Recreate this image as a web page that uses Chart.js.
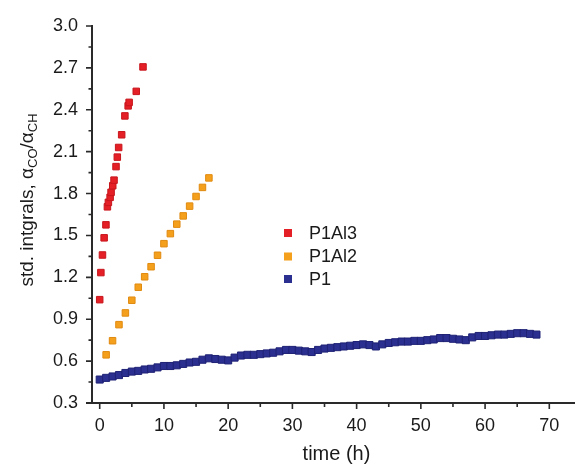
<!DOCTYPE html>
<html><head><meta charset="utf-8">
<script src="https://cdn.jsdelivr.net/npm/chart.js@4"></script>
<style>html,body{margin:0;padding:0;background:#fff}</style>
</head><body>
<canvas id="c" width="581" height="464" style="display:block;width:581px;height:464px"></canvas>
<script>
// ---- data ----
const seriesNames = ['P1Al3', 'P1Al2', 'P1'];
const seriesColors = ['#e41f26', '#f5a01d', '#2b2f8f'];
const seriesEdges = ['#c8161d', '#e08a10', '#1f2275'];

const p1al3Time  = [0, 0.18, 0.43, 0.69, 0.97, 1.2, 1.35, 1.62, 1.77, 2.03, 2.23, 2.54, 2.74, 2.95, 3.42, 3.92, 4.43, 4.58, 5.69, 6.74];
const p1al3Ratio = [1.04, 1.234, 1.36, 1.483, 1.576, 1.705, 1.737, 1.773, 1.809, 1.856, 1.896, 1.993, 2.061, 2.13, 2.221, 2.356, 2.428, 2.453, 2.532, 2.707];

const p1al2Time  = [1, 2, 3, 4, 5, 6, 7, 8, 9, 10, 11, 12, 13, 14, 15, 16, 17];
const p1al2Ratio = [0.645, 0.746, 0.861, 0.945, 1.036, 1.129, 1.204, 1.276, 1.358, 1.441, 1.513, 1.581, 1.64, 1.71, 1.779, 1.844, 1.912];

const p1Time  = [0,1,2,3,4,5,6,7,8,9,10,11,12,13,14,15,16,17,18,19,20,21,22,23,24,25,26,27,28,29,30,31,32,33,34,35,36,37,38,39,40,41,42,43,44,45,46,47,48,49,50,51,52,53,54,55,56,57,58,59,60,61,62,63,64,65,66,67,68];
const p1Ratio = [0.468,0.48,0.49,0.50,0.515,0.525,0.53,0.54,0.545,0.555,0.565,0.565,0.57,0.58,0.59,0.595,0.61,0.62,0.615,0.61,0.605,0.625,0.64,0.645,0.645,0.65,0.655,0.66,0.67,0.68,0.68,0.675,0.67,0.665,0.68,0.69,0.695,0.70,0.705,0.71,0.715,0.72,0.715,0.705,0.72,0.73,0.735,0.74,0.74,0.745,0.745,0.75,0.755,0.765,0.765,0.76,0.755,0.75,0.77,0.78,0.78,0.785,0.79,0.79,0.795,0.80,0.80,0.795,0.79];

const xMajorTicks = [0, 10, 20, 30, 40, 50, 60, 70];
const xMinorTicks = [5, 15, 25, 35, 45, 55, 65];
const yMajorTicks = [0.3, 0.6, 0.9, 1.2, 1.5, 1.8, 2.1, 2.4, 2.7, 3.0];
const yMinorTicks = [0.45, 0.75, 1.05, 1.35, 1.65, 1.95, 2.25, 2.55, 2.85];

const xTitle = 'time (h)';
const yTitleParts = [
  {t: 'std. intgrals, ', sub: false},
  {t: 'α', sub: false}, {t: 'CO', sub: true},
  {t: '/', sub: false},
  {t: 'α', sub: false}, {t: 'CH', sub: true}
];

// ---- build ----
const FONT = '"Liberation Sans", Arial, sans-serif';
const TXT = '#1a1a1a';
const AX = '#2a2a2a';

function pts(xs, ys) { return xs.map((x, i) => ({x: x, y: ys[i]})); }
const dataSets = [pts(p1al3Time, p1al3Ratio), pts(p1al2Time, p1al2Ratio), pts(p1Time, p1Ratio)];
const radii = [4.6, 4.6, 5];

const datasets = dataSets.map((d, i) => ({
  label: seriesNames[i],
  data: d,
  pointStyle: 'rect',
  pointRadius: radii[i],
  pointBorderWidth: 1,
  backgroundColor: seriesColors[i],
  borderColor: seriesEdges[i],
  showLine: false,
  clip: false
})).reverse();

const decor = {
  id: 'decor',
  afterDraw(chart) {
    const ctx = chart.ctx;
    const xs = chart.scales.x, ys = chart.scales.y;
    const ca = chart.chartArea;
    ctx.save();
    ctx.strokeStyle = AX;
    ctx.lineWidth = 2;
    // axes
    ctx.beginPath();
    ctx.moveTo(ca.left, ca.top - 1);
    ctx.lineTo(ca.left, ca.bottom + 1);
    ctx.moveTo(ca.left - 6, ca.bottom);
    ctx.lineTo(ca.right, ca.bottom);
    ctx.stroke();
    ctx.lineWidth = 1.6;
    ctx.beginPath();
    xMajorTicks.forEach(v => { const p = xs.getPixelForValue(v); ctx.moveTo(p, ca.bottom); ctx.lineTo(p, ca.bottom + 6); });
    xMinorTicks.forEach(v => { const p = xs.getPixelForValue(v); ctx.moveTo(p, ca.bottom); ctx.lineTo(p, ca.bottom + 4); });
    yMajorTicks.forEach(v => { const p = ys.getPixelForValue(v); ctx.moveTo(ca.left, p); ctx.lineTo(ca.left - 6, p); });
    yMinorTicks.forEach(v => { const p = ys.getPixelForValue(v); ctx.moveTo(ca.left, p); ctx.lineTo(ca.left - 3.5, p); });
    ctx.stroke();

    // x title
    ctx.fillStyle = TXT;
    ctx.font = '20px ' + FONT;
    ctx.textAlign = 'center';
    ctx.textBaseline = 'middle';
    ctx.fillText(xTitle, (ca.left + ca.right) / 2 + 3, 454);

    // y title (rotated, with subscripts)
    const big = '19px ' + FONT, small = '13px ' + FONT;
    let total = 0;
    yTitleParts.forEach(p => { ctx.font = p.sub ? small : big; p.w = ctx.measureText(p.t).width; total += p.w; });
    ctx.translate(26, 200);
    ctx.rotate(-Math.PI / 2);
    ctx.textAlign = 'left';
    ctx.textBaseline = 'alphabetic';
    let cx = -total / 2;
    yTitleParts.forEach(p => {
      ctx.font = p.sub ? small : big;
      ctx.fillText(p.t, cx, p.sub ? 11 : 7);
      cx += p.w;
    });
    ctx.setTransform(1, 0, 0, 1, 0, 0);

    // legend
    const ly = [233, 256.5, 279];
    ctx.font = '18px ' + FONT;
    ctx.textAlign = 'left';
    ctx.textBaseline = 'middle';
    seriesNames.forEach((n, i) => {
      ctx.fillStyle = seriesColors[i];
      ctx.fillRect(284, ly[i] - 4, 8, 8);
      ctx.fillStyle = TXT;
      ctx.fillText(n, 309, ly[i] + 1);
    });
    ctx.restore();
  }
};

new Chart(document.getElementById('c'), {
  type: 'scatter',
  data: {datasets: datasets},
  plugins: [decor],
  options: {
    responsive: false,
    animation: false,
    devicePixelRatio: 1,
    events: [],
    layout: {padding: {top: 26, right: 0, left: 0, bottom: 0}},
    plugins: {legend: {display: false}, tooltip: {enabled: false}},
    scales: {
      x: {
        type: 'linear', min: -1.2, max: 74,
        grid: {display: false, drawTicks: false},
        border: {display: false},
        ticks: {stepSize: 10, includeBounds: false, padding: 12, color: TXT, font: {family: FONT, size: 18},
                callback: v => String(v)},
        afterFit: s => { s.height = 61; }
      },
      y: {
        type: 'linear', min: 0.3, max: 3.0,
        grid: {display: false, drawTicks: false},
        border: {display: false},
        ticks: {stepSize: 0.3, includeBounds: false, padding: 14, color: TXT, font: {family: FONT, size: 18},
                callback: v => Number(v).toFixed(1)},
        afterFit: s => { s.width = 92; }
      }
    }
  }
});
</script>
</body></html>
